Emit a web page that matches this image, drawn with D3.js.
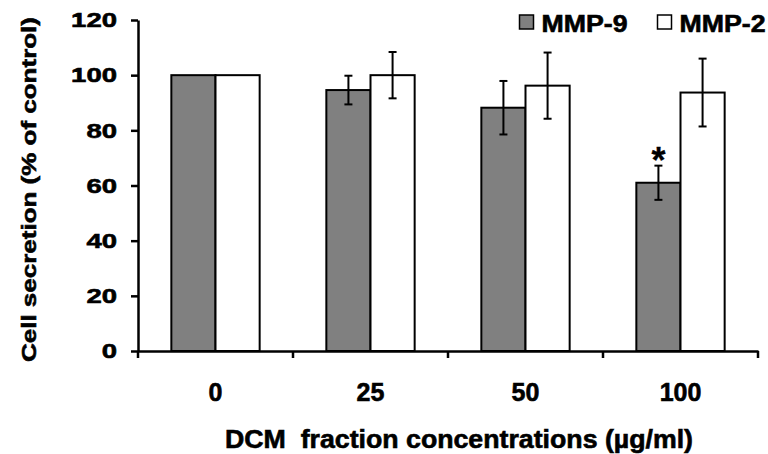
<!DOCTYPE html>
<html>
<head>
<meta charset="utf-8">
<script src="https://cdn.jsdelivr.net/npm/d3@7"></script>
<style>
  body { margin: 0; background: #fff; }
  text { font-family: "Liberation Sans", Arial, sans-serif; font-weight: bold; fill: #000; stroke: #000; stroke-width: 0.6px; }
</style>
</head>
<body>
<div id="chart"></div>
<script>
// data
var concentrations = ["0", "25", "50", "100"];
var seriesNames = ["MMP-9", "MMP-2"];
var mmp9 = [100, 94.6, 88.2, 61.0];
var mmp9Err = [0, 5.2, 9.7, 6.2];
var mmp2 = [100, 100, 96.2, 93.7];
var mmp2Err = [0, 8.4, 12.0, 12.3];
var yTicks = [0, 20, 40, 60, 80, 100, 120];
var starred = [{ series: "MMP-9", cat: "100" }];

var colors = { "MMP-9": "#808080", "MMP-2": "#ffffff" };

var width = 768, height = 454;
var margin = { left: 138, top: 20, right: 10, bottom: 103 };

var svg = d3.select("#chart")
	.append("svg")
	.attr("width", width)
	.attr("height", height);

var x0 = d3.scaleBand()
	.domain(concentrations)
	.range([margin.left, 758])
	.paddingInner(0)
	.paddingOuter(0);

var x1 = d3.scaleBand()
	.domain(seriesNames)
	.range([0, x0.bandwidth()])
	.paddingInner(0)
	.paddingOuter(0.755);

var y = d3.scaleLinear()
	.domain([0, 120])
	.range([height - margin.bottom, margin.top]);

var rows = concentrations.map(function(c, i){
	return [
		{ cat: c, series: "MMP-9", value: mmp9[i], err: mmp9Err[i] },
		{ cat: c, series: "MMP-2", value: mmp2[i], err: mmp2Err[i] }
	];
});

// bars
var groups = svg.selectAll("g.grp")
	.data(rows)
	.enter()
	.append("g")
	.attr("class", "grp")
	.attr("transform", function(d){ return "translate(" + x0(d[0].cat) + ",0)"; });

groups.selectAll("rect")
	.data(function(d){ return d; })
	.enter()
	.append("rect")
	.attr("x", function(d){ return x1(d.series); })
	.attr("y", function(d){ return y(d.value); })
	.attr("width", x1.bandwidth())
	.attr("height", function(d){ return y(0) - y(d.value); })
	.attr("fill", function(d){ return colors[d.series]; })
	.attr("stroke", "#000")
	.attr("stroke-width", 2);

// error bars
var eb = groups.selectAll("g.err")
	.data(function(d){ return d.filter(function(e){ return e.err > 0; }); })
	.enter()
	.append("g")
	.attr("class", "err")
	.attr("stroke", "#000")
	.attr("stroke-width", 2);

eb.append("line")
	.attr("x1", function(d){ return x1(d.series) + x1.bandwidth() / 2; })
	.attr("x2", function(d){ return x1(d.series) + x1.bandwidth() / 2; })
	.attr("y1", function(d){ return y(d.value + d.err); })
	.attr("y2", function(d){ return y(d.value - d.err); });

eb.selectAll("line.cap")
	.data(function(d){ return [d.value + d.err, d.value - d.err].map(function(v){ return { v: v, d: d }; }); })
	.enter()
	.append("line")
	.attr("class", "cap")
	.attr("x1", function(c){ return x1(c.d.series) + x1.bandwidth() / 2 - 4; })
	.attr("x2", function(c){ return x1(c.d.series) + x1.bandwidth() / 2 + 4; })
	.attr("y1", function(c){ return y(c.v); })
	.attr("y2", function(c){ return y(c.v); });

// significance mark
svg.selectAll("text.star")
	.data(starred)
	.enter()
	.append("text")
	.attr("class", "star")
	.attr("text-anchor", "middle")
	.style("font-size", "36px")
	.style("stroke-width", "0.3px")
	.attr("x", function(s){ return x0(s.cat) + x1(s.series) + x1.bandwidth() / 2; })
	.attr("y", function(s){
		var i = concentrations.indexOf(s.cat);
		return y(mmp9[i] + mmp9Err[i]) + 7;
	})
	.text("*");

// y axis
var yAxis = svg.append("g")
	.attr("transform", "translate(" + margin.left + ",0)")
	.call(d3.axisLeft(y).tickValues(yTicks).tickSize(7).tickSizeOuter(0).tickPadding(14));

yAxis.selectAll("path, line").attr("stroke", "#000").attr("stroke-width", 2.5);
yAxis.selectAll("text")
	.style("font-size", "21px")
	.attr("lengthAdjust", "spacingAndGlyphs")
	.attr("textLength", function(d){ return String(d).length * 15.3; });

// x axis
var xAxis = svg.append("g")
	.attr("transform", "translate(0," + y(0) + ")")
	.call(d3.axisBottom(x0).tickSize(0).tickPadding(32));

xAxis.selectAll("path").attr("stroke", "#000").attr("stroke-width", 2.5);
xAxis.selectAll("text").style("font-size", "25px");

var bounds = concentrations.map(function(c){ return x0(c); }).concat([x0.range()[1]]);
xAxis.selectAll("line.bound")
	.data(bounds)
	.enter()
	.append("line")
	.attr("class", "bound")
	.attr("x1", function(d){ return d; })
	.attr("x2", function(d){ return d; })
	.attr("y1", 0)
	.attr("y2", 7)
	.attr("stroke", "#000")
	.attr("stroke-width", 2.5);

// axis titles
svg.append("text")
	.attr("x", 459)
	.attr("y", 448)
	.attr("text-anchor", "middle")
	.style("font-size", "25px")
	.attr("lengthAdjust", "spacingAndGlyphs")
	.attr("textLength", 468)
	.style("white-space", "pre")
	.text("DCM  fraction concentrations (\u00b5g/ml)");

svg.append("text")
	.attr("transform", "translate(36,189.5) rotate(-90)")
	.attr("text-anchor", "middle")
	.style("font-size", "21px")
	.attr("lengthAdjust", "spacingAndGlyphs")
	.attr("textLength", 345)
	.text("Cell secretion (% of control)");

// legend
var legendX = [519.5, 657.5];
var legend = svg.selectAll("g.legend")
	.data(seriesNames)
	.enter()
	.append("g")
	.attr("class", "legend")
	.attr("transform", function(d, i){ return "translate(" + legendX[i] + ",15)"; });

legend.append("rect")
	.attr("width", 14)
	.attr("height", 14)
	.attr("fill", function(d){ return colors[d]; })
	.attr("stroke", "#000")
	.attr("stroke-width", 1.5);

legend.append("text")
	.attr("x", 22)
	.attr("y", 16.5)
	.style("font-size", "23px")
	.attr("lengthAdjust", "spacingAndGlyphs")
	.attr("textLength", 86)
	.text(function(d){ return d; });
</script>
</body>
</html>
